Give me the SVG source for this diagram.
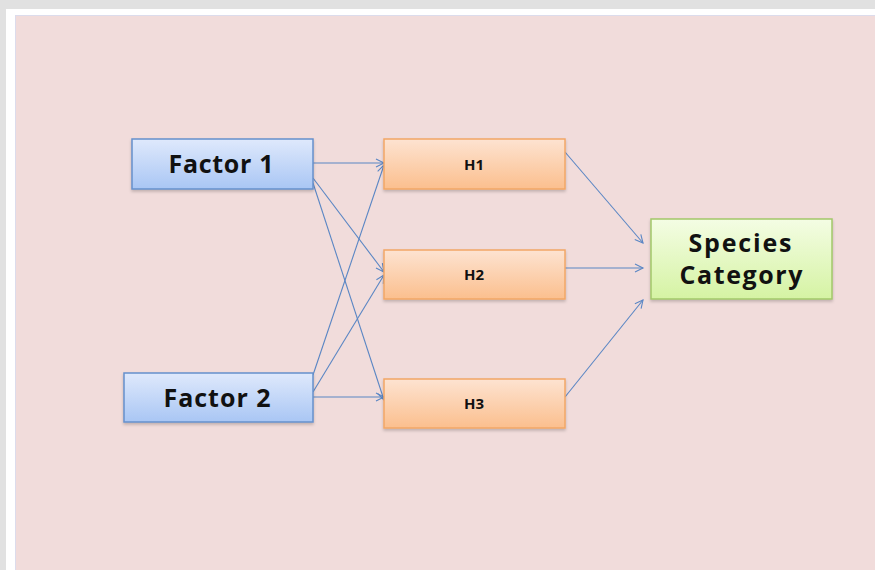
<svg xmlns="http://www.w3.org/2000/svg" width="875" height="570" viewBox="0 0 875 570">
<style>
.txt{font-family:"Open Sans","Liberation Sans",Arial,sans-serif;font-weight:bold;fill:#111;text-anchor:middle}
.big{font-size:25px}
.small{font-size:15px}
.conn line{stroke:#5a86c4;stroke-width:1.1;fill:none;marker-end:url(#arr)}
.fac{fill:url(#gBlue);stroke:#6690cc;stroke-width:1.5}
.hid{fill:url(#gOrange);stroke:#f2a766;stroke-width:1.5}
.out{fill:url(#gGreen);stroke:#a2c86a;stroke-width:1.5}
</style>
<defs>
<linearGradient id="gBlue" x1="0" y1="0" x2="0" y2="1">
<stop offset="0" stop-color="#dfe9fc"/><stop offset="1" stop-color="#a9c6f4"/>
</linearGradient>
<linearGradient id="gOrange" x1="0" y1="0" x2="0" y2="1">
<stop offset="0" stop-color="#fde3d1"/><stop offset="1" stop-color="#fbbf8e"/>
</linearGradient>
<linearGradient id="gGreen" x1="0" y1="0" x2="0" y2="1">
<stop offset="0" stop-color="#f4fde4"/><stop offset="1" stop-color="#d5f3a3"/>
</linearGradient>
<filter id="sh" x="-10%" y="-20%" width="120%" height="150%">
<feDropShadow dx="0" dy="2" stdDeviation="1.5" flood-color="#000" flood-opacity="0.2"/>
</filter>
<marker id="arr" markerUnits="userSpaceOnUse" markerWidth="12" markerHeight="12" refX="9" refY="5" orient="auto">
<path d="M1,1 L9,5 L1,9" fill="none" stroke="#5a86c4" stroke-width="1.1"/>
</marker>
</defs>
<rect x="0" y="0" width="875" height="570" fill="#e1e1e1"/>
<rect x="6" y="9" width="869" height="561" fill="#ffffff"/>
<rect x="15.5" y="15.5" width="870" height="570" fill="#f1dcdb" stroke="#dcdcec" stroke-width="1"/>
<g class="conn" id="connectors">
<line x1="313" y1="163" x2="384" y2="163"/>
<line x1="313" y1="178" x2="384" y2="272"/>
<line x1="313" y1="183" x2="384" y2="400"/>
<line x1="313" y1="375" x2="384" y2="165"/>
<line x1="313" y1="392" x2="384" y2="275"/>
<line x1="313" y1="397" x2="384" y2="397"/>
<line x1="565" y1="152" x2="643" y2="243"/>
<line x1="565" y1="268" x2="643" y2="268"/>
<line x1="565" y1="397" x2="643" y2="300"/>
</g>
<g id="factor1">
<rect class="fac" x="132" y="139" width="181" height="50" filter="url(#sh)"/>
<text class="txt big" x="221" y="172.5" textLength="105" lengthAdjust="spacing">Factor 1</text>
</g>
<g id="factor2">
<rect class="fac" x="124" y="373" width="189" height="49" filter="url(#sh)"/>
<text class="txt big" x="217" y="406.5" textLength="107" lengthAdjust="spacing">Factor 2</text>
</g>
<g id="h1">
<rect class="hid" x="384" y="139" width="181" height="50" filter="url(#sh)"/>
<text class="txt small" x="474" y="169.5">H1</text>
</g>
<g id="h2">
<rect class="hid" x="384" y="250" width="181" height="49" filter="url(#sh)"/>
<text class="txt small" x="474" y="280">H2</text>
</g>
<g id="h3">
<rect class="hid" x="384" y="379" width="181" height="49" filter="url(#sh)"/>
<text class="txt small" x="474" y="409">H3</text>
</g>
<g id="species">
<rect class="out" x="651" y="219" width="181" height="80" filter="url(#sh)"/>
<text class="txt big" x="740" y="251.5" textLength="103" lengthAdjust="spacing">Species</text>
<text class="txt big" x="741" y="284" textLength="123" lengthAdjust="spacing">Category</text>
</g>
</svg>
